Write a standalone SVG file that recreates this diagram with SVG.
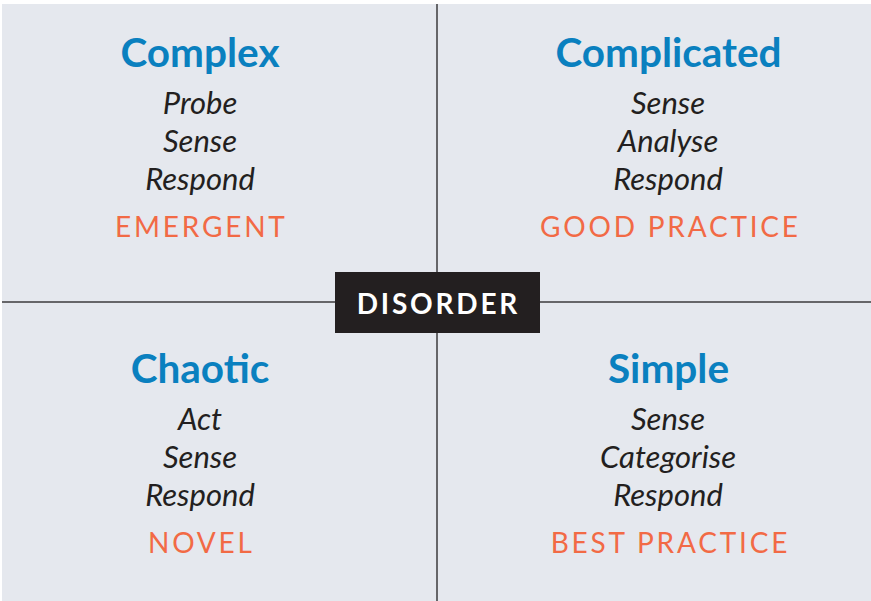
<svg xmlns="http://www.w3.org/2000/svg" width="871" height="601" viewBox="0 0 871 601">
  <style>
    .bg { fill: #e5e8ee; }
    .axis { stroke: #3b3b3d; stroke-width: 1.5; fill: none; }
    .title { font-family: Lato, "Open Sans", sans-serif; font-weight: 700; font-size: 40.5px; fill: #0a80bf; text-anchor: middle; }
    .step { font-family: Lato, "Open Sans", sans-serif; font-style: italic; font-size: 31px; fill: #231f20; text-anchor: middle; }
    .mode { font-family: Lato, "Open Sans", sans-serif; font-size: 28px; fill: #f26a45; letter-spacing: 2.8px; text-anchor: middle; }
    .center-box { fill: #231f20; }
    .center-text { font-family: Lato, "Open Sans", sans-serif; font-weight: 700; font-size: 28px; fill: #ffffff; letter-spacing: 2.8px; text-anchor: middle; }
  </style>

  <rect class="bg" x="2" y="4" width="869" height="597"/>

  <g id="connectors">
    <line class="axis" x1="437" y1="4" x2="437" y2="601"/>
    <line class="axis" x1="2" y1="302" x2="871" y2="302"/>
  </g>

  <g id="complex">
    <text class="title" x="200" y="67">Complex</text>
    <text class="step" x="200" y="114">Probe</text>
    <text class="step" x="200" y="152">Sense</text>
    <text class="step" x="200" y="190">Respond</text>
    <text class="mode" x="201.4" y="237">EMERGENT</text>
  </g>

  <g id="complicated">
    <text class="title" x="668.5" y="67">Complicated</text>
    <text class="step" x="668" y="114">Sense</text>
    <text class="step" x="668" y="152">Analyse</text>
    <text class="step" x="668" y="190">Respond</text>
    <text class="mode" x="670.4" y="237">GOOD PRACTICE</text>
  </g>

  <g id="chaotic">
    <text class="title" x="200" y="383">Chaotic</text>
    <text class="step" x="200" y="430">Act</text>
    <text class="step" x="200" y="468">Sense</text>
    <text class="step" x="200" y="506">Respond</text>
    <text class="mode" x="201.4" y="553">NOVEL</text>
  </g>

  <g id="simple">
    <text class="title" x="668.5" y="383">Simple</text>
    <text class="step" x="668" y="430">Sense</text>
    <text class="step" x="668" y="468">Categorise</text>
    <text class="step" x="668" y="506">Respond</text>
    <text class="mode" x="670.4" y="553">BEST PRACTICE</text>
  </g>

  <g id="disorder">
    <rect class="center-box" x="335" y="272" width="205" height="61"/>
    <text class="center-text" x="438.4" y="314">DISORDER</text>
  </g>
</svg>
